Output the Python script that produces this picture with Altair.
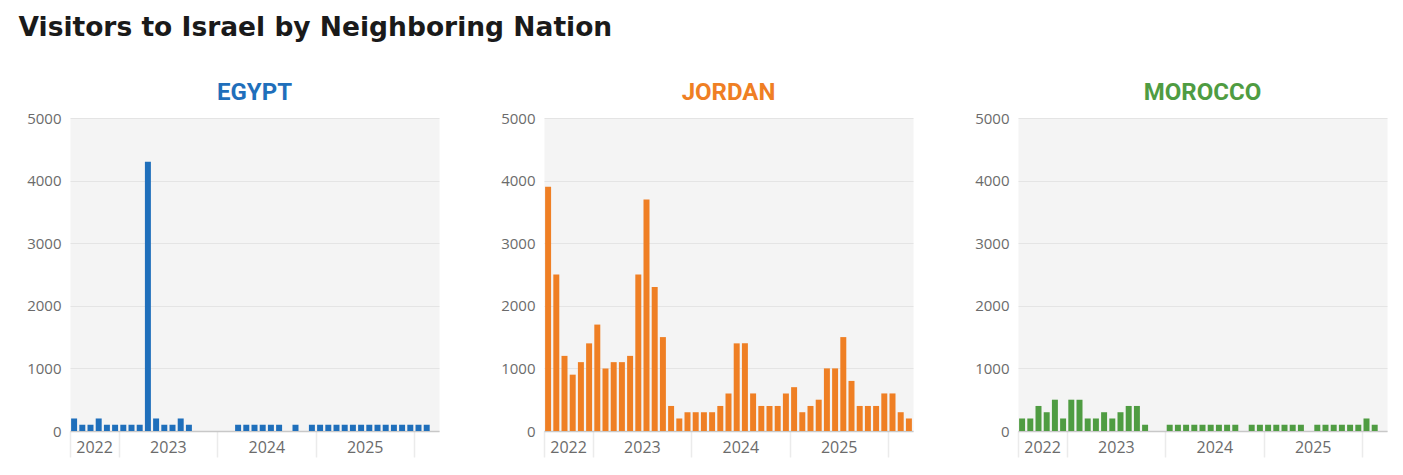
import altair as alt
import pandas as pd

# Monthly visitor counts, July 2022 - March 2026 (None = no arrivals recorded)
months = pd.date_range("2022-07-01", "2026-03-01", freq="MS").strftime("%Y-%m").tolist()

egypt = [200, 100, 100, 200, 100, 100, 100, 100, 100, 4300, 200, 100, 100, 200, 100,
         None, None, None, None, None,
         100, 100, 100, 100, 100, 100, None, 100, None,
         100, 100, 100, 100, 100, 100, 100, 100, 100, 100, 100, 100, 100, 100, 100,
         None]

jordan = [3900, 2500, 1200, 900, 1100, 1400, 1700, 1000, 1100, 1100, 1200, 2500,
          3700, 2300, 1500, 400, 200, 300, 300, 300, 300, 400, 600, 1400, 1400,
          600, 400, 400, 400, 600, 700, 300, 400, 500, 1000, 1000, 1500, 800,
          400, 400, 400, 600, 600, 300, 200]

morocco = [200, 200, 400, 300, 500, 200, 500, 500, 200, 200, 300, 200, 300, 400, 400, 100,
           None, None,
           100, 100, 100, 100, 100, 100, 100, 100, 100, None,
           100, 100, 100, 100, 100, 100, 100, None,
           100, 100, 100, 100, 100, 100, 200, 100,
           None]

countries = ["EGYPT", "JORDAN", "MOROCCO"]
series = [egypt, jordan, morocco]
colors = ["#1f6fbb", "#ef7f24", "#4f9c42"]

# Year boundaries (tick marks) and mid-points of each year's visible span (labels)
year_starts = [months[0]] + [m for m in months if m.endswith("-01")]
label_months = ["2022-10", "2023-07", "2024-07", "2025-07"]

y_values = [0, 1000, 2000, 3000, 4000, 5000]

WIDTH, HEIGHT = 369, 313
PAD_IN = 0.27
BAND_EDGE = -(PAD_IN / 2) / (1 - PAD_IN)  # left edge of each month's slot
STEP = WIDTH / len(months)
LABEL_GRAY = "#6b6b6b"


def panel(name, values, color):
    df = pd.DataFrame({"month": months, "visitors": values}).dropna()
    xscale = alt.Scale(domain=months, paddingInner=PAD_IN, paddingOuter=PAD_IN / 2)
    yenc = alt.Y(
        "visitors:Q",
        scale=alt.Scale(domain=[0, 5000]),
        axis=alt.Axis(values=y_values, format="d", title=None, domain=False, ticks=False,
                      gridColor="#e4e4e4", gridWidth=1, labelColor=LABEL_GRAY,
                      labelFontSize=15, labelFont="Open Sans", labelPadding=9,
                      minExtent=51, maxExtent=51),
    )
    bars = alt.Chart(df).mark_bar(color=color).encode(
        x=alt.X("month:O", scale=xscale,
                axis=alt.Axis(values=year_starts, bandPosition=BAND_EDGE, labels=False,
                              ticks=True, tickSize=26, tickColor="#ebebeb", tickWidth=1.5,
                              domainColor="#c8c8c8", domainWidth=1.5, grid=False,
                              title=None, orient="bottom")),
        y=yenc,
    )
    # year names sit between the boundary ticks
    labels = alt.Chart(df).mark_bar(opacity=0).encode(
        x=alt.X("month:O", scale=xscale,
                axis=alt.Axis(values=label_months, labelOffset=-STEP / 2,
                              labelExpr="substring(datum.value, 0, 4)", labelAngle=0,
                              labelAlign="center", ticks=False, domain=False, grid=False,
                              labelPadding=8, labelFontSize=16, labelFont="Open Sans",
                              labelColor=LABEL_GRAY, title=None, orient="bottom")),
        y=yenc,
    )
    return alt.layer(bars, labels).resolve_axis(x="independent").properties(
        width=WIDTH, height=HEIGHT,
        title=alt.TitleParams(name, color=color, fontSize=24, font="Roboto",
                              fontWeight="bold", anchor="middle", offset=6),
    )


chart = alt.hconcat(
    *[panel(n, v, c) for n, v, c in zip(countries, series, colors)],
    spacing=52,
).properties(
    title=alt.TitleParams("Visitors to Israel by Neighboring Nation", anchor="start",
                          fontSize=26.5, font="DejaVu Sans", fontWeight="bold",
                          color="#1a1a1a", offset=39),
    padding={"left": 18, "top": 15, "right": 5, "bottom": 5},
).configure(
    background="white",
    view=alt.ViewConfig(fill="#f4f4f4", stroke="transparent"),
)

chart.save("out.html", embed_options={"renderer": "svg", "actions": False})
